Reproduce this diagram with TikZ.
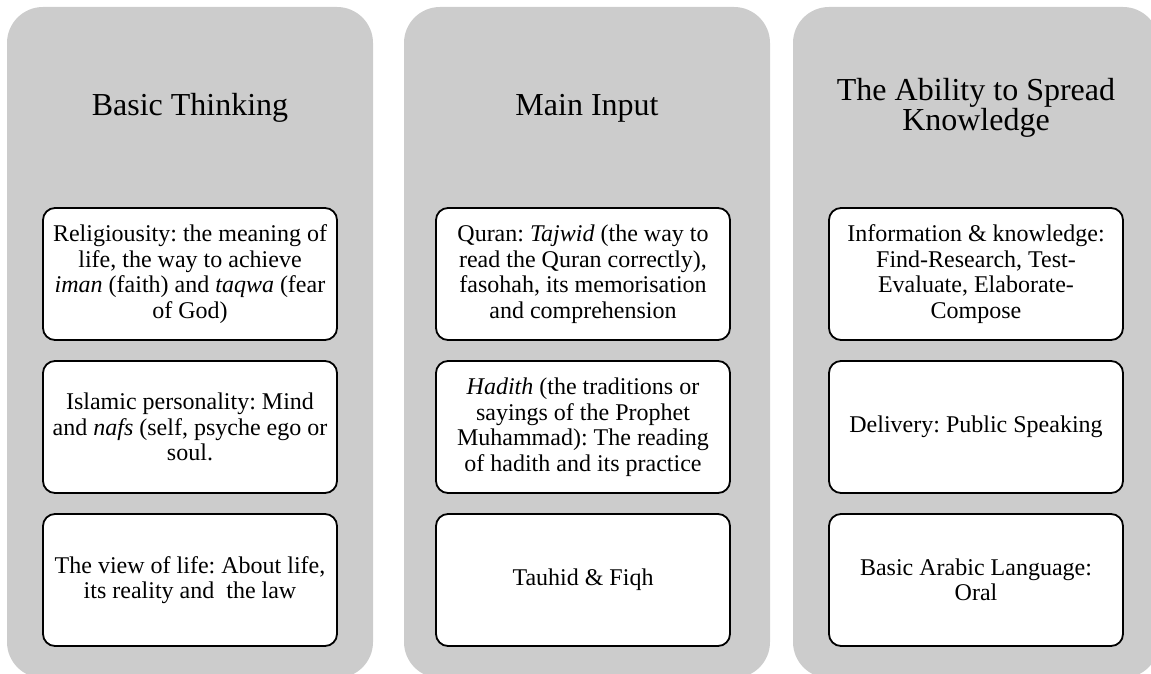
\documentclass[tikz,border=0pt]{standalone}
\usepackage{fontspec}
\setmainfont{Liberation Serif}
\usepackage{xcolor}
\usetikzlibrary{positioning}
\definecolor{panelgrey}{RGB}{204,204,204}
\frenchspacing
\tikzset{
  panel/.style={fill=panelgrey,rounded corners=36pt,minimum width=366pt,
    minimum height=671pt,inner sep=0pt,outer sep=0pt,anchor=north},
  heading/.style={font=\fontsize{32}{29}\selectfont,align=center},
  itembox/.style={draw=black,line width=1.8pt,fill=white,rounded corners=12pt,
    minimum width=294pt,minimum height=132pt,inner sep=2pt,outer sep=0pt,
    align=center,font=\fontsize{24}{25.5}\selectfont}
}

\begin{document}
\begin{tikzpicture}[x=1pt,y=-1pt,node distance=21pt]
  \clip (0,0) rectangle (1151,674);
  % three grey columns
  \node[panel] (basicpanel) at (190,7) {};
  \node[panel] (inputpanel) at (587,7) {};
  \node[panel] (spreadpanel) at (976,7) {};
  \node[heading] (basictitle) at (190,108) {Basic Thinking};
  \node[heading] (inputtitle) at (587,108) {Main Input};
  \node[heading] (spreadtitle) at (976,108) {The Ability to Spread\\Knowledge};
  % Basic Thinking
  \node[itembox] (religion) at (190,274)
    {Religiousity: the meaning of\\life, the way to achieve\\
     \textit{iman} (faith) and \textit{taqwa} (fear\\of God)};
  \node[itembox,below=of religion] (persona)
    {Islamic personality: Mind\\and \textit{nafs} (self, psyche ego or\\soul.};
  \node[itembox,below=of persona] (lifeview)
    {The view of life: About life,\\its reality and\ \ the law};
  % Main Input
  \node[itembox] (quran) at (583,274)
    {Quran: \textit{Tajwid} (the way to\\read the Quran correctly),\\
     fasohah, its memorisation\\and comprehension};
  \node[itembox,below=of quran] (hadith)
    {\textit{Hadith} (the traditions or\\sayings of the Prophet\\
     Muhammad): The reading\\of hadith and its practice};
  \node[itembox,below=of hadith] (tauhid) {Tauhid \& Fiqh};
  % The Ability to Spread Knowledge
  \node[itembox] (info) at (976,274)
    {Information \& knowledge:\\Find-Research, Test-\\
     Evaluate, Elaborate-\\Compose};
  \node[itembox,below=of info] (delivery) {Delivery: Public Speaking};
  \node[itembox,below=of delivery] (arabic)
    {Basic Arabic Language:\\Oral};
\end{tikzpicture}
\end{document}
